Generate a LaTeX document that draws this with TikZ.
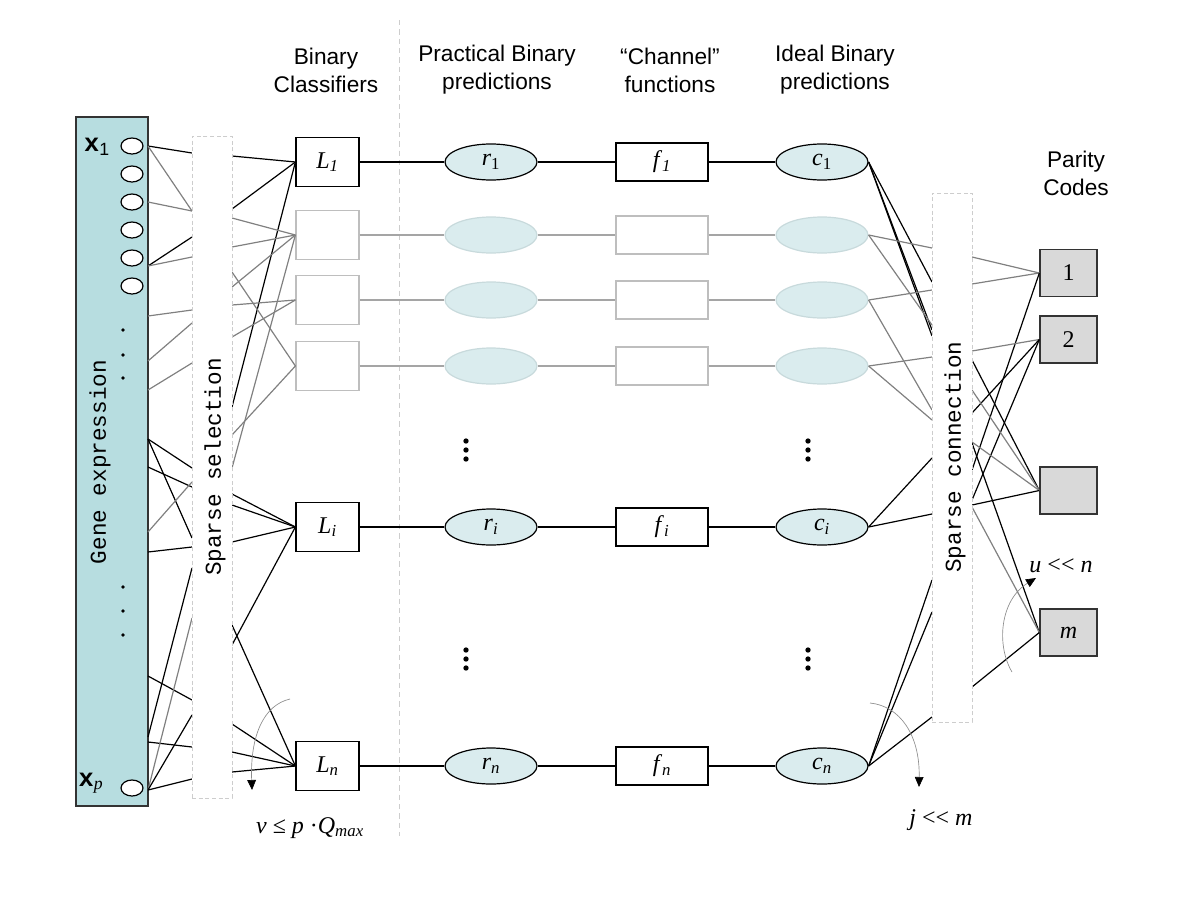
\documentclass[tikz,border=0pt]{standalone}
\usepackage{fontspec}
\setmainfont{Liberation Serif}
\newfontfamily\hdr{Liberation Sans}
\newfontfamily\mono{Liberation Mono}
\usetikzlibrary{shapes.geometric,arrows.meta}
\definecolor{genefill}{RGB}{183,221,224}
\definecolor{ellfill}{RGB}{218,236,238}
\definecolor{ellgray}{RGB}{200,218,220}
\definecolor{boxgray}{RGB}{190,190,190}
\definecolor{lngray}{RGB}{128,128,128}
\definecolor{rowgray}{RGB}{165,165,165}
\definecolor{parfill}{RGB}{217,217,217}
\definecolor{dashgray}{RGB}{205,205,205}
\begin{document}
\begin{tikzpicture}[x=0.75pt,y=-0.75pt,
  conn/.style={line width=0.9pt},
  clsbox/.style={draw=black,line width=0.9pt,fill=white,minimum width=47.25pt,minimum height=36.75pt,inner sep=0pt,font=\fontsize{18}{20}\selectfont},
  clsoff/.style={clsbox,draw=boxgray},
  pred/.style={ellipse,draw=black,line width=0.9pt,fill=ellfill,minimum width=69pt,minimum height=27pt,inner sep=0pt,font=\fontsize{18}{20}\selectfont},
  predoff/.style={pred,draw=ellgray},
  chan/.style={draw=black,line width=0.9pt,fill=white,minimum width=69pt,minimum height=28.5pt,inner sep=0pt,font=\fontsize{18}{20}\selectfont},
  chanoff/.style={chan,draw=boxgray},
  parity/.style={draw=black!80,line width=1pt,fill=parfill,minimum width=42.75pt,minimum height=35.25pt,inner sep=0pt,font=\fontsize{18}{20}\selectfont},
  incirc/.style={ellipse,draw=black,line width=0.9pt,fill=white,minimum width=16.5pt,minimum height=12pt,inner sep=0pt},
  sparsebox/.style={draw=dashgray,dash pattern=on 3pt off 2pt,fill=white,line width=0.5pt,inner sep=0pt,minimum width=30pt},
  hdrtxt/.style={font=\hdr\fontsize{17}{21}\selectfont,align=center},
  monotxt/.style={font=\mono\fontsize{17}{20}\selectfont,rotate=90},
  lbl/.style={font=\fontsize{18}{20}\selectfont},
  arcln/.style={draw=black!45,line width=0.5pt,-{Triangle[length=7.5pt,width=6.5pt,color=black]}},
  rowon/.style={draw=black,line width=0.9pt},
  rowoff/.style={draw=rowgray,line width=0.9pt}
]
\useasboundingbox (0,0) rectangle (1200,900);

% separator
\coordinate (sepT) at (399,20);
\coordinate (sepB) at (399,836);
\draw[dashgray,dash pattern=on 4pt off 3pt,line width=0.5pt] (sepT) -- (sepB);

% headers
\node[hdrtxt] (h1) at (326,70) {Binary\\Classifiers};
\node[hdrtxt] (h2) at (497,70) {Practical Binary\\predictions};
\node[hdrtxt] (h3) at (670,70) {“Channel”\\functions};
\node[hdrtxt] (h4) at (835,70) {Ideal Binary\\predictions};
\node[hdrtxt] (h5) at (1076,173) {Parity\\Codes};

% gene expression column
\node[draw=black!80,line width=1pt,fill=genefill,minimum width=54pt,minimum height=516.75pt,inner sep=0pt] (gene) at (112,461.5) {};
\foreach \y [count=\k] in {146,174,202,230,258,286} \node[incirc] (x\k) at (132,\y) {};
\node[incirc] (xp) at (132,788) {};
\node[font=\mono\bfseries\fontsize{19}{20}\selectfont,inner sep=0pt] (x1lbl) at (97,147) {x\textsubscript{\hdr\mdseries 1}};
\node[font=\mono\bfseries\fontsize{19}{20}\selectfont,inner sep=0pt] (xplbl) at (91,783) {x\textsubscript{\rmfamily\mdseries\itshape p}};
\foreach \y in {330,355,378,587,611,635} \fill (123,\y) circle (1.4pt);
\node[monotxt] (genetxt) at (100,462) {Gene expression};

% rows
\node[clsbox] (L1) at (327.5,162) {\textit{L}\textsubscript{\textit{1}}};
\node[clsoff] (B2) at (327.5,235) {};
\node[clsoff] (B3) at (327.5,300) {};
\node[clsoff] (B4) at (327.5,366) {};
\node[clsbox] (Li) at (327.5,527) {\textit{L}\textsubscript{\textit{i}}};
\node[clsbox] (Ln) at (327.5,766) {\textit{L}\textsubscript{\textit{n}}};

\node[pred] (r1) at (491,162) {\textit{r}\textsubscript{1}};
\node[predoff] (r2) at (491,235) {};
\node[predoff] (r3) at (491,300) {};
\node[predoff] (r4) at (491,366) {};
\node[pred] (ri) at (491,527) {\textit{r}\textsubscript{\textit{i}}};
\node[pred] (rn) at (491,766) {\textit{r}\textsubscript{\textit{n}}};

\node[chan] (f1) at (662,162) {\textit{f}\textsubscript{\textit{1}}};
\node[chanoff] (f2) at (662,235) {};
\node[chanoff] (f3) at (662,300) {};
\node[chanoff] (f4) at (662,366) {};
\node[chan] (fi) at (662,527) {\textit{f}\textsubscript{\textit{i}}};
\node[chan] (fn) at (662,766) {\textit{f}\textsubscript{\textit{n}}};

\node[pred] (c1) at (822,162) {\textit{c}\textsubscript{1}};
\node[predoff] (c2) at (822,235) {};
\node[predoff] (c3) at (822,300) {};
\node[predoff] (c4) at (822,366) {};
\node[pred] (ci) at (822,527) {\textit{c}\textsubscript{\textit{i}}};
\node[pred] (cn) at (822,766) {\textit{c}\textsubscript{\textit{n}}};

\draw[rowon] (L1) -- (r1); \draw[rowon] (r1) -- (f1); \draw[rowon] (f1) -- (c1);
\draw[rowon] (Li) -- (ri); \draw[rowon] (ri) -- (fi); \draw[rowon] (fi) -- (ci);
\draw[rowon] (Ln) -- (rn); \draw[rowon] (rn) -- (fn); \draw[rowon] (fn) -- (cn);
\foreach \k in {2,3,4}{
  \draw[rowoff] (B\k) -- (r\k);
  \draw[rowoff] (r\k) -- (f\k);
  \draw[rowoff] (f\k) -- (c\k);
}

% vertical dots
\foreach \x in {466,808}{
  \foreach \y in {441,450,459,650,659,668} \fill (\x,\y) circle (2pt);
}

% parity boxes
\node[parity] (P1) at (1068.5,273) {1};
\node[parity] (P2) at (1068.5,339.5) {2};
\node[parity] (P3) at (1068.5,490.5) {};
\node[parity] (Pm) at (1068.5,632.5) {\textit{m}};

% gene -> selection box
\foreach \a/\b/\s [count=\k] in {146/153/black,146/211/lngray,202/211/lngray,266/237/black,266/257/lngray,316/310/lngray,361/323/lngray,390/363/lngray,439/468/black,467/487/black,439/538/black,532/482/lngray,552/547/black,737/568/black,676/700/black,742/747/black,790/618/lngray,790/715/black,790/779/black}{
  \coordinate (gin\k) at (148,\a);
  \coordinate (sin\k) at (192,\b);
  \draw[conn,draw=\s] (gin\k) -- (sin\k);
}
% selection box -> classifiers
\foreach \b/\t/\s [count=\k] in {156/L1/black,209/L1/black,407/L1/black,218/B2/lngray,247/B2/lngray,287/B2/lngray,468/B2/lngray,305/B3/lngray,337/B3/lngray,272/B4/lngray,435/B4/lngray,494/Li/black,505/Li/black,542/Li/black,645/Li/black,625/Ln/black,724/Ln/black,752/Ln/black,772/Ln/black}{
  \coordinate (sout\k) at (232,\b);
  \draw[conn,draw=\s] (sout\k) -- (\t.west);
}
% ideal predictions -> connection box
\foreach \n/\b/\s [count=\k] in {c1/282/black,c1/330/black,c1/336/black,c2/248/lngray,c2/325/lngray,c3/290/lngray,c3/410/lngray,c4/357/lngray,c4/420/lngray,ci/458/black,ci/514/black,cn/580/black,cn/612/black,cn/717/black}{
  \coordinate (cin\k) at (932,\b);
  \draw[conn,draw=\s] (\n.east) -- (cin\k);
}
% connection box -> parity
\foreach \b/\t/\s [count=\k] in {257/P1/lngray,284/P1/lngray,470/P1/black,351/P2/lngray,413/P2/black,500/P2/black,360/P3/black,390/P3/lngray,442/P3/lngray,505/P3/black,443/Pm/black,507/Pm/lngray,687/Pm/black}{
  \coordinate (cout\k) at (972,\b);
  \draw[conn,draw=\s] (cout\k) -- (\t.west);
}

% sparse boxes
\node[sparsebox,minimum height=496.5pt] (selbox) at (212,467) {};
\node[monotxt] (seltxt) at (215,467) {Sparse selection};
\node[sparsebox,minimum height=396.75pt] (conbox) at (952,457.5) {};
\node[monotxt] (contxt) at (955,457) {Sparse connection};

% arcs
\coordinate (aA1) at (290,699); \coordinate (aA2) at (252,790);
\draw[arcln] (aA1) .. controls (264,705) and (250,735) .. (aA2);
\coordinate (aB1) at (870,703); \coordinate (aB2) at (919,787);
\draw[arcln] (aB1) .. controls (900,706) and (920,735) .. (aB2);
\coordinate (aC1) at (1012,672); \coordinate (aC2) at (1036,578);
\draw[arcln] (aC1) .. controls (996,645) and (1000,600) .. (aC2);

% labels
\node[lbl] (vlbl) at (310,828) {\textit{v} ≤ \textit{p} ·\textit{Q}\textsubscript{\textit{max}}};
\node[lbl] (jlbl) at (941,820) {\textit{j} <\kern0pt< \textit{m}};
\node[lbl] (ulbl) at (1061,566) {\textit{u} <\kern0pt< \textit{n}};
\end{tikzpicture}
\end{document}
